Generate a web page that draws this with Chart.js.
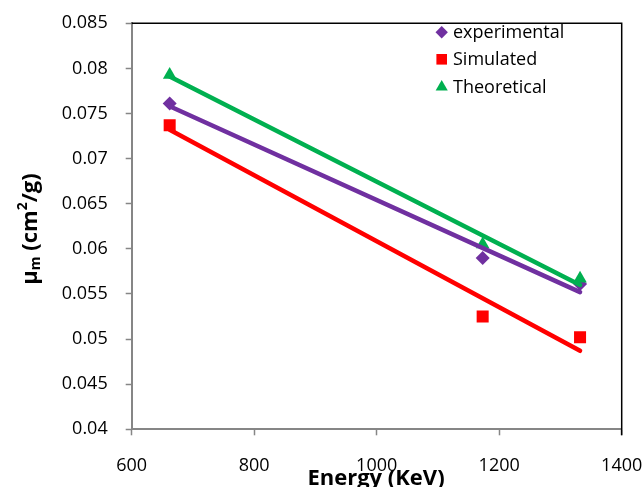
<!DOCTYPE html>
<html><head><meta charset="utf-8">
<script src="https://cdn.jsdelivr.net/npm/chart.js@4/dist/chart.umd.min.js"></script>
<style>html,body{margin:0;padding:0;background:#fff}#wrap{width:643px;height:487px;position:relative}</style>
</head><body><div id="wrap"><canvas id="c"></canvas></div>
<script>
// ---- data ----
const energies = [662, 1173, 1332];
const experimental = [0.0761, 0.0590, 0.0561];
const simulated = [0.0737, 0.0525, 0.0502];
const theoretical = [0.0793, 0.0605, 0.0567];
const trendEnergies = [662, 1332];
const experimentalTrend = [0.0758, 0.0552];
const simulatedTrend = [0.0732, 0.0487];
const theoreticalTrend = [0.0791, 0.0560];
const seriesNames = ['experimental', 'Simulated', 'Theoretical'];
const xTicks = [600, 800, 1000, 1200, 1400];
const yTicks = [0.04, 0.045, 0.05, 0.055, 0.06, 0.065, 0.07, 0.075, 0.08, 0.085];
const yTickLabels = ['0.04', '0.045', '0.05', '0.055', '0.06', '0.065', '0.07', '0.075', '0.08', '0.085'];
const xTitle = 'Energy (KeV)';
const yTitleParts = ['\u03bc', 'm', ' (cm', '2', '/g)'];

// ---- styling ----
const PURPLE = '#7030A0', RED = '#FF0000', GREEN = '#00B050';
const AXIS = '#868686';
const FONT = "'Open Sans', sans-serif";
const markers = [
  {style: 'rectRot', radius: 7, color: PURPLE},
  {style: 'rect', radius: 8.5, color: RED},
  {style: 'triangle', radius: 7.8, color: GREEN}
];

const pts = (xs, ys) => xs.map((x, i) => ({x: x, y: ys[i]}));
const pointSets = [experimental, simulated, theoretical];
const trendSets = [experimentalTrend, simulatedTrend, theoreticalTrend];

const datasets = [];
pointSets.forEach((vals, i) => {
  datasets.push({
    label: seriesNames[i],
    data: pts(energies, vals),
    showLine: false,
    pointStyle: markers[i].style,
    pointRadius: markers[i].radius,
    pointHoverRadius: markers[i].radius,
    pointBackgroundColor: markers[i].color,
    pointBorderColor: markers[i].color,
    pointBorderWidth: 0,
    order: 3 - i + 10
  });
});
trendSets.forEach((vals, i) => {
  datasets.push({
    label: seriesNames[i] + ' trend',
    data: pts(trendEnergies, vals),
    showLine: true,
    borderColor: markers[i].color,
    borderWidth: 4.5,
    borderCapStyle: 'round',
    pointRadius: 0,
    pointHoverRadius: 0,
    fill: false,
    order: 3 - i
  });
});

const decor = {
  id: 'decor',
  afterDatasetsDraw(chart) {
    const ctx = chart.ctx, a = chart.chartArea;
    ctx.save();
    // top and right border of plot area
    ctx.strokeStyle = '#000';
    ctx.lineWidth = 1.5;
    ctx.beginPath();
    ctx.moveTo(a.left, a.top);
    ctx.lineTo(a.right, a.top);
    ctx.lineTo(a.right, a.bottom + 6);
    ctx.stroke();
    // legend
    const lx = 441.7, tx = 453, rows = [32.3, 59.3, 87];
    ctx.font = '18px ' + FONT;
    ctx.fillStyle = '#000';
    ctx.textBaseline = 'middle';
    ctx.textAlign = 'left';
    seriesNames.forEach((name, i) => {
      const m = markers[i];
      ctx.fillStyle = m.color;
      ctx.strokeStyle = m.color;
      Chart.helpers.drawPoint(ctx, {pointStyle: m.style, radius: i === 1 ? 7.5 : m.radius - 0.8, rotation: 0, borderWidth: 0}, lx, rows[i]);
      ctx.fillStyle = '#000';
      ctx.fillText(name, tx, rows[i] + 1);
    });
    // x title
    ctx.font = 'bold 22px ' + FONT;
    ctx.textAlign = 'center';
    ctx.textBaseline = 'alphabetic';
    ctx.fillText(xTitle, 376, 485);
    // y title (rotated, with subscript and superscript)
    ctx.translate(31, 229);
    ctx.rotate(-Math.PI / 2);
    const big = 'bold 22px ' + FONT, small = 'bold 14px ' + FONT;
    const segs = [
      {t: yTitleParts[0], f: big, dy: 0},
      {t: yTitleParts[1], f: small, dy: 5},
      {t: yTitleParts[2], f: big, dy: 0},
      {t: yTitleParts[3], f: small, dy: -8},
      {t: yTitleParts[4], f: big, dy: 0}
    ];
    let total = 0;
    segs.forEach(s => { ctx.font = s.f; s.w = ctx.measureText(s.t).width; total += s.w; });
    let x = -total / 2;
    ctx.textAlign = 'left';
    ctx.textBaseline = 'middle';
    segs.forEach(s => { ctx.font = s.f; ctx.fillText(s.t, x, s.dy); x += s.w; });
    ctx.restore();
  }
};

new Chart(document.getElementById('c'), {
  type: 'scatter',
  data: {datasets: datasets},
  options: {
    responsive: true,
    maintainAspectRatio: false,
    animation: false,
    events: [],
    layout: {padding: {left: 0, top: 23.3, right: 21.3, bottom: 0}},
    plugins: {legend: {display: false}, tooltip: {enabled: false}},
    scales: {
      x: {
        type: 'linear', min: 600, max: 1400,
        afterBuildTicks: s => { s.ticks = xTicks.map(v => ({value: v})); },
        afterFit: s => { s.height = 57.7; s.paddingLeft = 0; s.paddingRight = 0; },
        grid: {drawOnChartArea: false, drawTicks: true, tickLength: 6, tickColor: AXIS, tickWidth: 1.5},
        border: {color: AXIS, width: 2},
        ticks: {color: '#000', font: {family: FONT, size: 18}, padding: 20, maxRotation: 0, callback: v => String(v)}
      },
      y: {
        type: 'linear', min: 0.04, max: 0.085,
        afterBuildTicks: s => { s.ticks = yTicks.map(v => ({value: v})); },
        afterFit: s => { s.width = 131.7; s.paddingTop = 0; s.paddingBottom = 0; },
        grid: {drawOnChartArea: false, drawTicks: true, tickLength: 6, tickColor: AXIS, tickWidth: 1.5},
        border: {color: AXIS, width: 2},
        ticks: {color: '#000', font: {family: FONT, size: 18}, padding: 18,
          callback: (v, i) => yTickLabels[i]}
      }
    }
  },
  plugins: [decor]
});
</script>
</body></html>
